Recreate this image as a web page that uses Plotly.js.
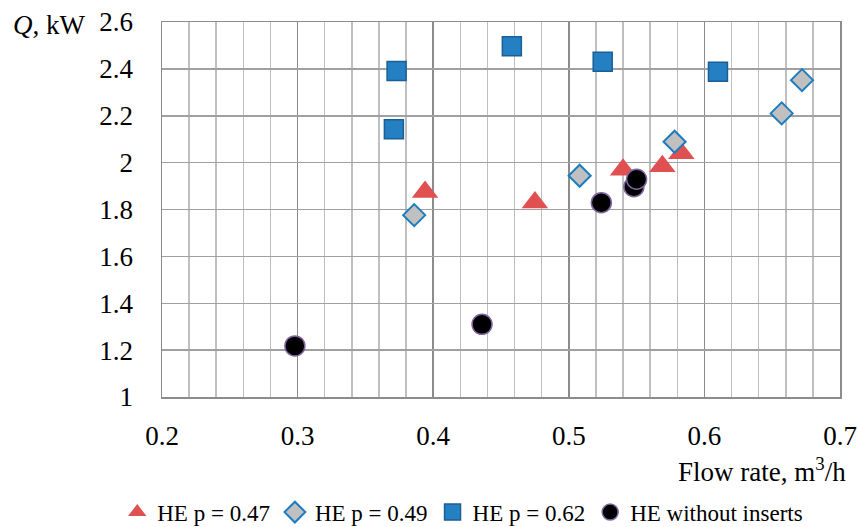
<!DOCTYPE html>
<html>
<head>
<meta charset="utf-8">
<script src="https://cdn.plot.ly/plotly-3.0.1.min.js"></script>
<style>html,body{margin:0;padding:0;background:#fff;}#chart{width:858px;height:527px;}</style>
</head>
<body>
<div id="chart"></div>
<script>
// Data
const seriesNames = ["HE p = 0.47", "HE p = 0.49", "HE p = 0.62", "HE without inserts"];

const p047_x = [0.394, 0.475, 0.540, 0.569, 0.583];
const p047_y = [1.875, 1.830, 1.970, 1.985, 2.040];

const p049_x = [0.386, 0.508, 0.578, 0.657, 0.672];
const p049_y = [1.776, 1.944, 2.089, 2.210, 2.352];

const p062_x = [0.371, 0.373, 0.458, 0.525, 0.610];
const p062_y = [2.142, 2.391, 2.497, 2.430, 2.388];

const none_x = [0.298, 0.436, 0.524, 0.548, 0.550];
const none_y = [1.218, 1.310, 1.829, 1.897, 1.929];

const xTicks = [0.2, 0.3, 0.4, 0.5, 0.6, 0.7];
const xTickText = ["0.2", "0.3", "0.4", "0.5", "0.6", "0.7"];
const yTicks = [1, 1.2, 1.4, 1.6, 1.8, 2, 2.2, 2.4, 2.6];
const yTickText = ["1", "1.2", "1.4", "1.6", "1.8", "2", "2.2", "2.4", "2.6"];

const font = "Liberation Serif";

const traces = [
  {
    x: p047_x, y: p047_y, name: seriesNames[0], type: "scatter", mode: "markers",
    marker: {symbol: "triangle-up", size: 23, color: "#E05050", line: {width: 0}}
  },
  {
    x: p049_x, y: p049_y, name: seriesNames[1], type: "scatter", mode: "markers",
    marker: {symbol: "diamond", size: 17, color: "#C0C0C0", line: {width: 2, color: "#1C7CC0"}}
  },
  {
    x: p062_x, y: p062_y, name: seriesNames[2], type: "scatter", mode: "markers",
    marker: {symbol: "square", size: 19, color: "#2580C3", line: {width: 1.5, color: "#1A5F96"}}
  },
  {
    x: none_x, y: none_y, name: seriesNames[3], type: "scatter", mode: "markers",
    marker: {symbol: "circle", size: 20, color: "#000000", line: {width: 1.5, color: "#8064A2"}}
  }
];

const layout = {
  width: 858, height: 527,
  margin: {l: 162, r: 18, t: 22, b: 130, autoexpand: false},
  paper_bgcolor: "#ffffff", plot_bgcolor: "#ffffff",
  font: {family: font, size: 27, color: "#000"},
  showlegend: true,
  legend: {
    orientation: "h", x: -0.066, xanchor: "left", y: -0.307, yanchor: "middle",
    font: {family: font, size: 23, color: "#000"},
    itemwidth: 30, tracegroupgap: 0, itemgap: 0, borderwidth: 0
  },
  xaxis: {
    range: [0.2, 0.7], tickvals: xTicks, ticktext: xTickText,
    showgrid: true, gridcolor: "#8C8C8C", gridwidth: 1.5,
    minor: {dtick: 0.02, tick0: 0.2, showgrid: true, gridcolor: "#BFBFBF", gridwidth: 1.5},
    zeroline: false, showline: true, linecolor: "#8C8C8C", linewidth: 1.5, mirror: true,
    ticks: "outside", ticklen: 14, tickcolor: "rgba(0,0,0,0)",
    tickfont: {family: font, size: 27, color: "#000"}
  },
  yaxis: {
    range: [1, 2.6], tickvals: yTicks, ticktext: yTickText,
    showgrid: true, gridcolor: "#A0A0A0", gridwidth: 1.5,
    zeroline: false, showline: true, linecolor: "#8C8C8C", linewidth: 1.5, mirror: true,
    ticks: "outside", ticklen: 22, tickcolor: "rgba(0,0,0,0)",
    tickfont: {family: font, size: 27, color: "#000"}
  },
  annotations: [
    {
      text: "<i>Q</i>, kW", xref: "paper", yref: "paper",
      x: -0.222, xanchor: "left", y: 0.992, yanchor: "middle",
      showarrow: false, font: {family: font, size: 27, color: "#000"}
    },
    {
      text: "Flow rate, m<sup>3</sup>/h", xref: "paper", yref: "paper",
      x: 1.012, xanchor: "right", y: -0.195, yanchor: "middle",
      showarrow: false, font: {family: font, size: 27, color: "#000"}
    }
  ]
};

Plotly.newPlot("chart", traces, layout, {displayModeBar: false, staticPlot: true});
</script>
</body>
</html>
